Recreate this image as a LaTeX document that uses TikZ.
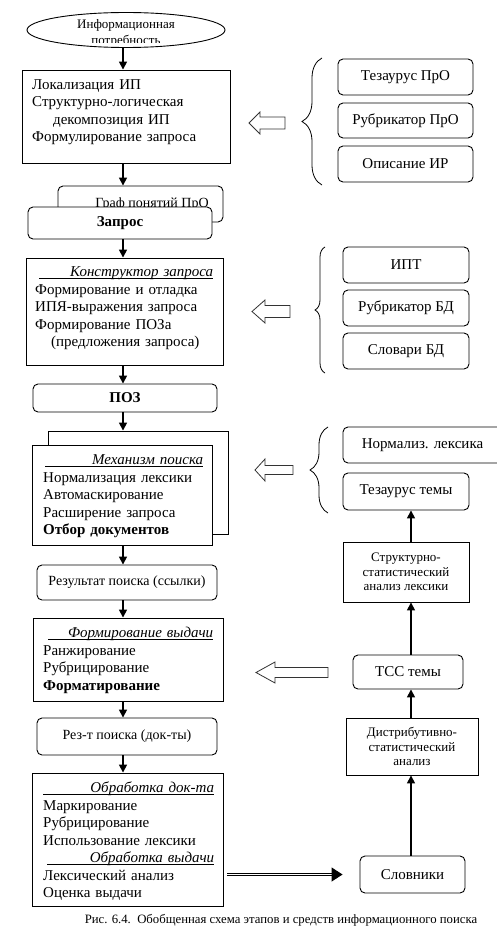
\documentclass[tikz,border=0pt]{standalone}
\usepackage{fontspec}
\setmainfont{Liberation Serif}
\usetikzlibrary{arrows.meta, positioning, shapes.geometric, calc,
    decorations.pathreplacing}

% underlined italic heading, right aligned in the text width
\newcommand{\hdr}[2]{\hspace*{#1}\rlap{\rule[-1.6pt]{\dimexpr\linewidth-#1\relax}{0.6pt}}%
    \makebox[\dimexpr\linewidth-#1\relax][r]{\itshape #2}}

\begin{document}
\begin{tikzpicture}[x=1pt, y=-1pt,
    box/.style={draw, line width=0.9pt, fill=white, inner sep=0pt},
    rbox/.style={box, rounded corners=5pt, font=\fontsize{14}{16}\selectfont},
    tool/.style={rbox, font=\fontsize{15}{17}\selectfont},
    lines/.style={anchor=base west, inner sep=0pt, align=left,
        font=\fontsize{15}{17.5}\selectfont},
    small/.style={align=center, font=\fontsize{13}{14.5}\selectfont},
    arr/.style={-{Triangle[length=8pt, width=8pt]}, line width=1.6pt},
    dbl/.style={double, double distance=1.4pt, line width=1.1pt,
        -{Triangle[length=11pt, width=14pt]}},
    brace/.style={decorate, decoration={brace, amplitude=#1}, line width=0.8pt},
    pics/hollow/.style n args={4}{code={
        \draw[line width=0.8pt, draw=black!80, fill=white] (0,0) -- (#2,-#3) -- (#2,-#4)
            -- (#1,-#4) -- (#1,#4) -- (#2,#4) -- (#2,#3) -- cycle;}},
]
    \useasboundingbox (0,0) rectangle (497,947);
    \coordinate (axis) at (123,0);
    \coordinate (raxis) at (411,0);

    % main column
    \node[draw, ellipse, line width=0.9pt, minimum width=198pt, minimum height=35pt,
        inner sep=0pt] (need) at (126,30) {};
    \begin{scope}
        \clip (40,10) rectangle (210,43);
        \node[align=center, font=\fontsize{13}{16}\selectfont] (needtxt) at (126,33)
            {Информационная\\потребность};
    \end{scope}

    \node[box, minimum width=208pt, minimum height=93pt] (loc) at (126,116.5) {};
    \node[lines, text width=190pt] (loctxt) at (32,89.5)
        {Локализация ИП\\Структурно-логическая\\\hspace*{21pt}декомпозиция ИП\\
         Формулирование запроса};

    \node[rbox, minimum width=165pt, minimum height=36pt] (graf) at (140.5,204)
        {\hspace*{23pt}Граф понятий ПрО};
    \node[rbox, minimum width=184pt, minimum height=32pt,
        font=\fontsize{15}{17}\selectfont\bfseries] (zapros) at (120,223) {Запрос};

    \node[box, minimum width=197pt, minimum height=107pt] (konstr) at (124.5,311.5) {};
    \node[lines, text width=178pt] (konstrtxt) at (35,276.5)
        {\hdr{4pt}{Конструктор запроса}\\Формирование и отладка\\ИПЯ-выражения запроса\\
         Формирование ПОЗа\\\hspace*{16pt}(предложения запроса)};

    \node[rbox, minimum width=184pt, minimum height=28pt,
        font=\fontsize{15}{17}\selectfont\bfseries] (poz) at (125,398) {ПОЗ};

    \node[box, minimum width=180pt, minimum height=103pt] (mekhback) at (138,482.5) {};
    \node[box, minimum width=180pt, minimum height=100pt] (mekh) at (122,495) {};
    \node[lines, text width=160pt] (mekhtxt) at (43,464.5)
        {\hdr{2pt}{Механизм поиска}\\Нормализация лексики\\Автомаскирование\\
         Расширение запроса\\\textbf{Отбор документов}};

    \node[rbox, minimum width=180pt, minimum height=35pt] (rezult) at (127,582.5)
        {Результат поиска (ссылки)};

    \node[box, minimum width=190pt, minimum height=83pt] (vydacha) at (128,659.5) {};
    \node[lines, text width=170pt] (vydachatxt) at (43,637.5)
        {\hdr{5pt}{Формирование выдачи}\\Ранжирование\\Рубрицирование\\
         \textbf{Форматирование}};

    \node[rbox, minimum width=180pt, minimum height=37pt] (rezt) at (127,736.5)
        {Рез-т поиска (док-ты)};

    \node[box, minimum width=191pt, minimum height=133pt] (obrab) at (127.5,839.5) {};
    \node[lines, text width=171pt] (obrabtxt) at (43,792.5)
        {\hdr{0pt}{Обработка док-та}\\Маркирование\\Рубрицирование\\
         Использование лексики\\\hdr{4pt}{Обработка выдачи}\\Лексический анализ\\
         Оценка выдачи};

    \draw[arr] (axis |- need.south) -- (axis |- loc.north);
    \draw[arr] (axis |- loc.south) -- (axis |- graf.north);
    \draw[arr] (axis |- zapros.south) -- (axis |- konstr.north);
    \draw[arr] (axis |- konstr.south) -- (axis |- poz.north);
    \draw[arr] (axis |- poz.south) -- (axis |- mekhback.north);
    \draw[arr] (axis |- mekh.south) -- (axis |- rezult.north);
    \draw[arr] (axis |- rezult.south) -- (axis |- vydacha.north);
    \draw[arr] (axis |- vydacha.south) -- (axis |- rezt.north);
    \draw[arr] (axis |- rezt.south) -- (axis |- obrab.north);

    % right column
    \node[tool, minimum width=135pt, minimum height=36pt] (tezpro) at (405.5,77) {Тезаурус ПрО};
    \node[tool, minimum width=135pt, minimum height=35pt] (rubpro) at (405.5,120.5) {Рубрикатор ПрО};
    \node[tool, minimum width=135pt, minimum height=36pt] (opis) at (405.5,164) {Описание ИР};
    \draw[brace=20pt] (322,185) -- (322,58);
    \pic at (249,123) {hollow={36}{11}{11}{6}};

    \node[tool, minimum width=126pt, minimum height=36pt] (ipt) at (406,265) {ИПТ};
    \node[tool, minimum width=126pt, minimum height=36pt] (rubbd) at (406,308) {Рубрикатор БД};
    \node[tool, minimum width=126pt, minimum height=36pt] (slovbd) at (406,351) {Словари БД};
    \draw[brace=10pt] (325,373) -- (325,247);
    \pic at (252,311.5) {hollow={38}{13}{11.5}{6}};

    \node[tool, minimum width=160pt, minimum height=36pt] (norm) at (423,445)
        {\hspace*{-1pt}Нормализ. лексика};
    \node[tool, minimum width=126pt, minimum height=37pt] (tezt) at (406,491.5) {Тезаурус темы};
    \draw[brace=18pt] (328,513) -- (328,427);
    \pic at (255,470) {hollow={38}{10}{11}{4.5}};

    \node[box, minimum width=126pt, minimum height=60pt, small] (struct) at (406,572)
        {Структурно-\\статистический\\анализ лексики};
    \node[tool, minimum width=110pt, minimum height=34pt] (tss) at (408,672) {ТСС темы};
    \pic at (256,672.5) {hollow={72}{19}{10.5}{5}};
    \node[box, minimum width=132pt, minimum height=57pt, small] (distr) at (412,746.5)
        {Дистрибутивно-\\статистический\\анализ};
    \node[tool, minimum width=105pt, minimum height=37pt] (slovn) at (412.5,874.5) {Словники};

    \draw[arr] (raxis |- slovn.north) -- (raxis |- distr.south);
    \draw[arr] (raxis |- distr.north) -- (raxis |- tss.south);
    \draw[arr] (raxis |- tss.north) -- (raxis |- struct.south);
    \draw[arr] (raxis |- struct.north) -- (raxis |- tezt.south);

    \draw[dbl] ([xshift=4pt]obrab.east |- slovn.west) -- ([xshift=-17pt]slovn.west);

    \node[font=\fontsize{12.75}{14}\selectfont] (cap) at (281,920)
        {Рис. 6.4.\ \ Обобщенная схема этапов и средств информационного поиска};
\end{tikzpicture}
\end{document}
